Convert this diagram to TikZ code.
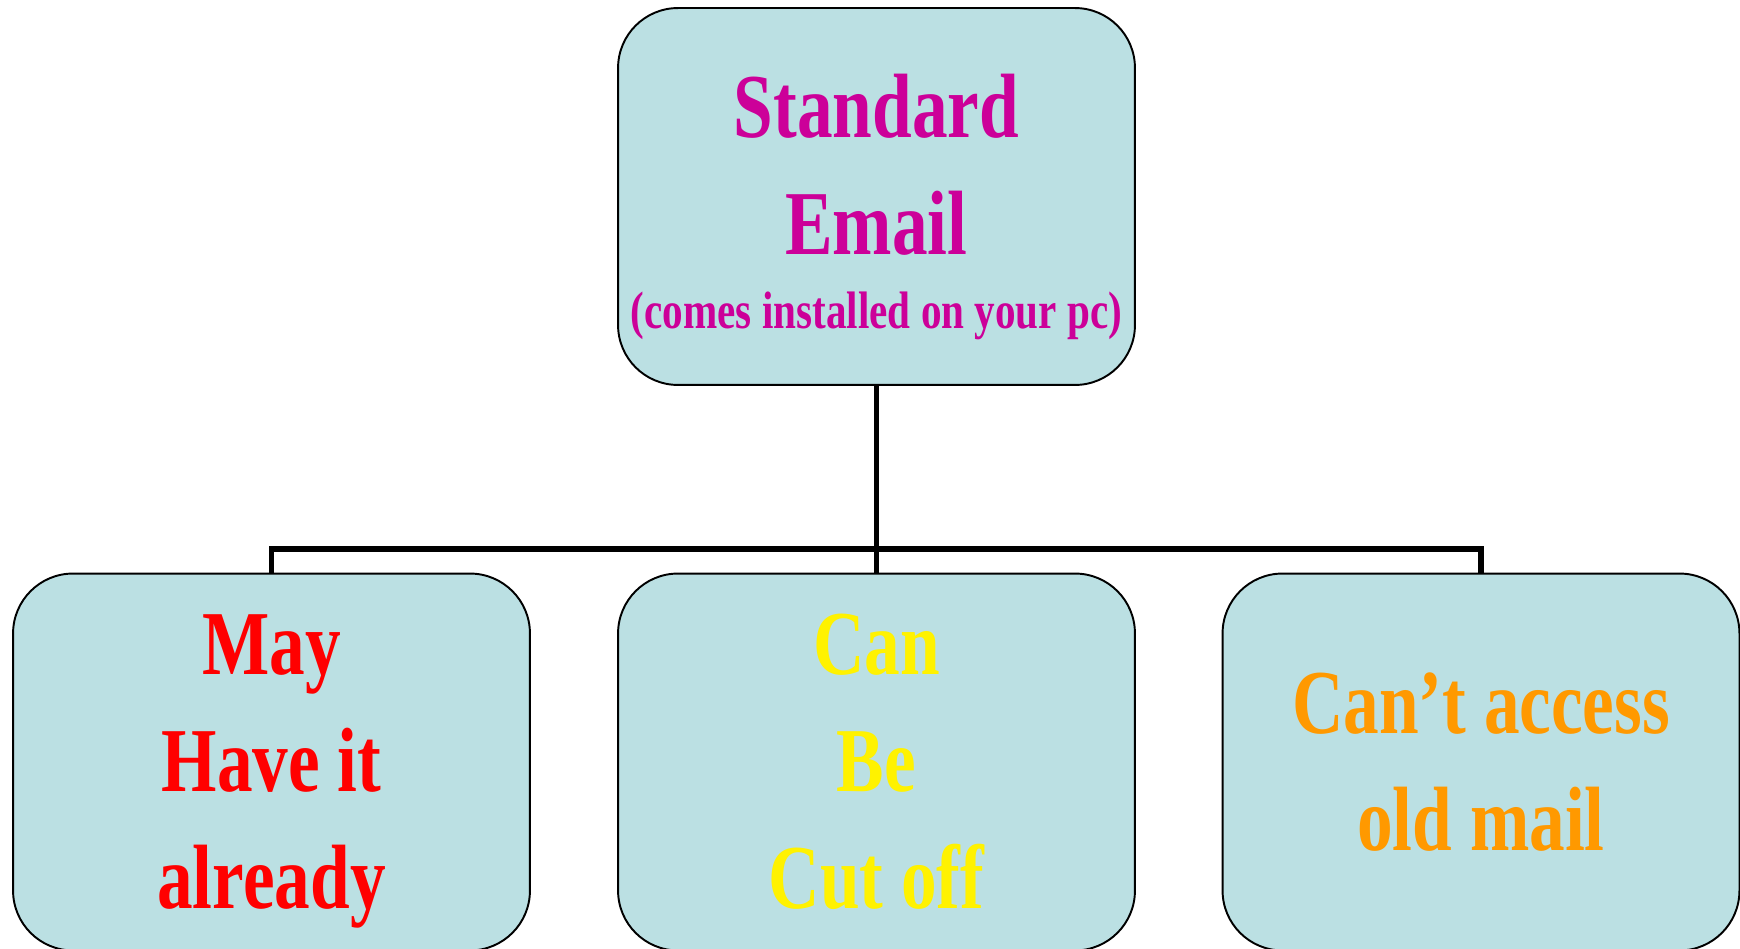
\documentclass[tikz,border=0pt]{standalone}
\usepackage{fontspec}
\newfontfamily\posterfont{Liberation Serif}[FakeStretch=0.78]
\definecolor{boxfill}{RGB}{187,224,227}
\definecolor{plum}{RGB}{204,0,153}
\definecolor{amber}{RGB}{255,153,0}
\tikzset{
  box/.style={draw=black, line width=1.1pt, fill=boxfill, rounded corners=1.2cm,
    minimum width=10.34cm, minimum height=7.54cm, inner sep=0pt, align=center,
    font=\posterfont\bfseries\fontsize{52}{66.6}\selectfont},
  link/.style={draw=black, line width=3.2pt}
}
\begin{document}
\begin{tikzpicture}[x=0.02cm, y=-0.02cm]
   \useasboundingbox (0,0) rectangle (1740,949);
   \node (SE)   [box, text=plum]  at (876.5,196.5)
     {\rule{0pt}{48pt}Standard\\Email\\[-24pt]{\fontsize{30}{66.6}\selectfont(comes installed on your pc)}};
   \node (May)  [box, text=red]   at (271.5,762) {May\\Have it\\\raisebox{0pt}[\height][0pt]{already}};
   \node (Can)  [box, text=yellow] at (876.5,762) {Can\\Be\\Cut off};
   \node (Cant) [box, text=amber] at (1481,762) {Can’t access\\old mail};
   \coordinate (hub) at (876.5,549);
   \path[link]
     (SE)        -- (Can)
     (May.north) |- (hub) -| (Cant.north);
\end{tikzpicture}
\end{document}
